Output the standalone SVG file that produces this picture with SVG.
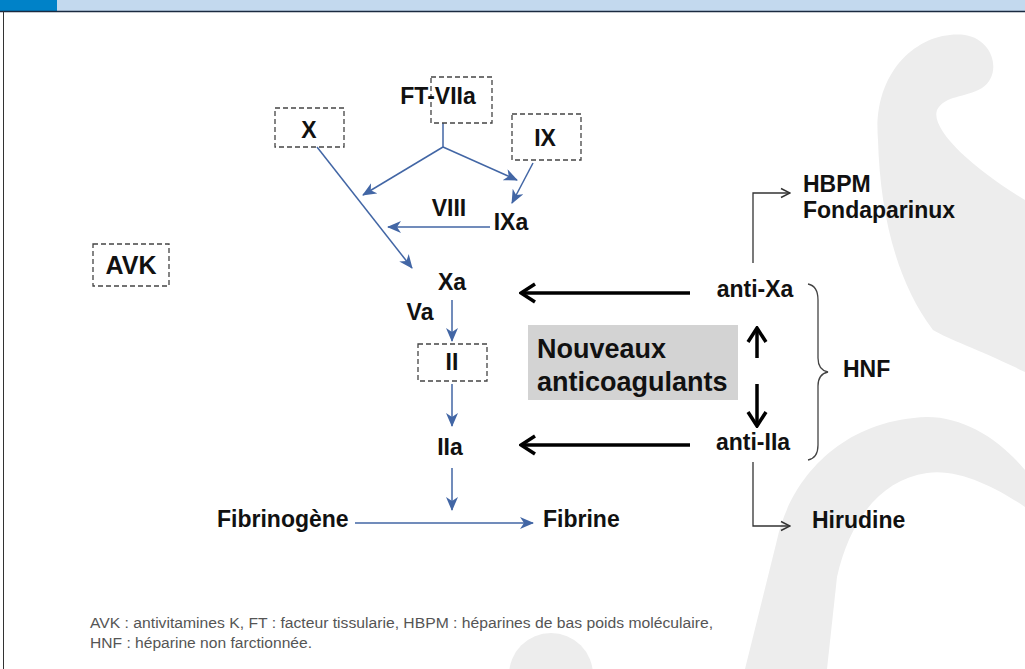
<svg xmlns="http://www.w3.org/2000/svg" width="1025" height="669" viewBox="0 0 1025 669">
<style>
.lbl{font-family:"Liberation Sans",Arial,sans-serif;font-weight:bold;font-size:23px;fill:#111;}
.box{fill:none;stroke:#444;stroke-width:1.3;stroke-dasharray:5,3;}
.blue{fill:none;stroke:#4266a5;stroke-width:1.5;marker-end:url(#ab);}
.blk{fill:none;stroke:#000;stroke-width:3.5;marker-end:url(#ak);}
.thin{fill:none;stroke:#333;stroke-width:1.3;marker-end:url(#at);}
.wm{fill:#ededed;}
.cap{font-family:"Liberation Sans",Arial,sans-serif;font-size:14px;fill:#555;}
</style>
<defs>
<marker id="ab" viewBox="0 0 14 12" refX="13" refY="6" markerWidth="14" markerHeight="12" markerUnits="userSpaceOnUse" orient="auto">
<path d="M0,0 L14,6 L0,12 L4,6 Z" fill="#4266a5"/>
</marker>
<marker id="ak" viewBox="0 0 18 22" refX="16" refY="11" markerWidth="18" markerHeight="22" markerUnits="userSpaceOnUse" orient="auto">
<path d="M2,2 L16,11 L2,20" fill="none" stroke="#000" stroke-width="3.5"/>
</marker>
<marker id="at" viewBox="0 0 12 12" refX="11" refY="6" markerWidth="12" markerHeight="12" markerUnits="userSpaceOnUse" orient="auto">
<path d="M2,1.5 L11,6 L2,10.5" fill="none" stroke="#333" stroke-width="1.5"/>
</marker>
</defs>
<rect width="1025" height="669" fill="#fff"/>
<g id="watermark">
<path class="wm" d="M878,140 C872,70 920,30 965,35 C995,40 1002,75 982,88 C965,98 945,95 937,110 C930,130 975,170 1025,200 L1025,372 C980,350 950,340 933,330 C895,280 880,210 878,140 Z"/>
<path class="wm" d="M745,669 L777,540 C790,480 840,420 927,417 C965,417 1000,440 1025,470 L1025,507 C1000,490 960,468 927,473 C880,480 850,520 837,577 L827,669 Z"/>
<circle class="wm" cx="551" cy="675" r="42"/>
</g>
<g id="header">
<rect x="0" y="0" width="57" height="11" fill="#0082c8"/>
<rect x="57" y="0" width="968" height="11" fill="#c3d9ee"/>
<line x1="0" y1="11.5" x2="1025" y2="11.5" stroke="#1a2a40" stroke-width="1.5"/>
<line x1="3.5" y1="11" x2="3.5" y2="669" stroke="#333" stroke-width="1"/>
</g>
<g id="connectors">
<line class="blue" x1="317" y1="147" x2="412" y2="268"/>
<line x1="443" y1="123" x2="443" y2="147" stroke="#4266a5" stroke-width="1.5"/>
<line class="blue" x1="443" y1="147" x2="363" y2="195"/>
<line class="blue" x1="443" y1="147" x2="517" y2="180"/>
<line class="blue" x1="533" y1="163" x2="512" y2="203"/>
<line class="blue" x1="490" y1="227" x2="388" y2="227"/>
<line class="blue" x1="452" y1="300" x2="452" y2="341"/>
<line class="blue" x1="452" y1="384" x2="452" y2="426"/>
<line class="blue" x1="452" y1="468" x2="452" y2="510"/>
<line class="blue" x1="355" y1="523" x2="533" y2="523"/>
<line class="blk" x1="690" y1="293" x2="521" y2="293"/>
<line class="blk" x1="690" y1="445" x2="521" y2="445"/>
<line class="blk" x1="757" y1="358" x2="757" y2="328"/>
<line class="blk" x1="757" y1="384" x2="757" y2="426"/>
<path class="thin" d="M753,263 L753,193 L790,193"/>
<path class="thin" d="M753,462 L753,526 L790,526"/>
<path d="M808,284 Q818,286 818,300 L818,358 Q818,370 828,372 Q818,374 818,386 L818,445 Q818,458 808,460" fill="none" stroke="#444" stroke-width="1.3"/>
</g>
<g id="n-ftviia"><rect class="box" x="431" y="77" width="61" height="46"/><text class="lbl" x="438" y="104" text-anchor="middle">FT-VIIa</text></g>
<g id="n-x"><rect class="box" x="275" y="108" width="69" height="39"/><text class="lbl" x="309" y="138" text-anchor="middle">X</text></g>
<g id="n-ix"><rect class="box" x="512" y="114" width="69" height="46"/><text class="lbl" x="545" y="146" text-anchor="middle">IX</text></g>
<g id="n-viii"><text class="lbl" x="449" y="216" text-anchor="middle">VIII</text></g>
<g id="n-ixa"><text class="lbl" x="511" y="230" text-anchor="middle">IXa</text></g>
<g id="n-avk"><rect class="box" x="93" y="244" width="76" height="42"/><text class="lbl" x="131" y="274" text-anchor="middle" style="font-size:25px">AVK</text></g>
<g id="n-xa"><text class="lbl" x="452" y="290" text-anchor="middle">Xa</text></g>
<g id="n-va"><text class="lbl" x="420" y="320" text-anchor="middle">Va</text></g>
<g id="n-ii"><rect class="box" x="418" y="344" width="69" height="37"/><text class="lbl" x="452" y="370" text-anchor="middle">II</text></g>
<g id="n-iia"><text class="lbl" x="450" y="455" text-anchor="middle">IIa</text></g>
<g id="n-fibrinogene"><text class="lbl" x="217" y="527">Fibrinogène</text></g>
<g id="n-fibrine"><text class="lbl" x="543" y="527">Fibrine</text></g>
<g id="n-nouveaux"><rect x="528" y="325" width="210" height="75" fill="#d3d3d3"/><text class="lbl" x="537" y="358" style="font-size:27px" fill="#222">Nouveaux</text><text class="lbl" x="537" y="391" style="font-size:27px">anticoagulants</text></g>
<g id="n-antixa"><text class="lbl" x="755" y="297" text-anchor="middle">anti-Xa</text></g>
<g id="n-antiiia"><text class="lbl" x="753" y="450" text-anchor="middle">anti-IIa</text></g>
<g id="n-hbpm"><text class="lbl" x="803" y="192">HBPM</text><text class="lbl" x="803" y="218">Fondaparinux</text></g>
<g id="n-hnf"><text class="lbl" x="843" y="377">HNF</text></g>
<g id="n-hirudine"><text class="lbl" x="812" y="528">Hirudine</text></g>
<g id="caption">
<text class="cap" x="90" y="628" textLength="623" lengthAdjust="spacingAndGlyphs">AVK : antivitamines K, FT : facteur tissularie, HBPM : héparines de bas poids moléculaire,</text>
<text class="cap" x="90" y="648" textLength="222" lengthAdjust="spacingAndGlyphs">HNF : héparine non farctionnée.</text>
</g>
</svg>
